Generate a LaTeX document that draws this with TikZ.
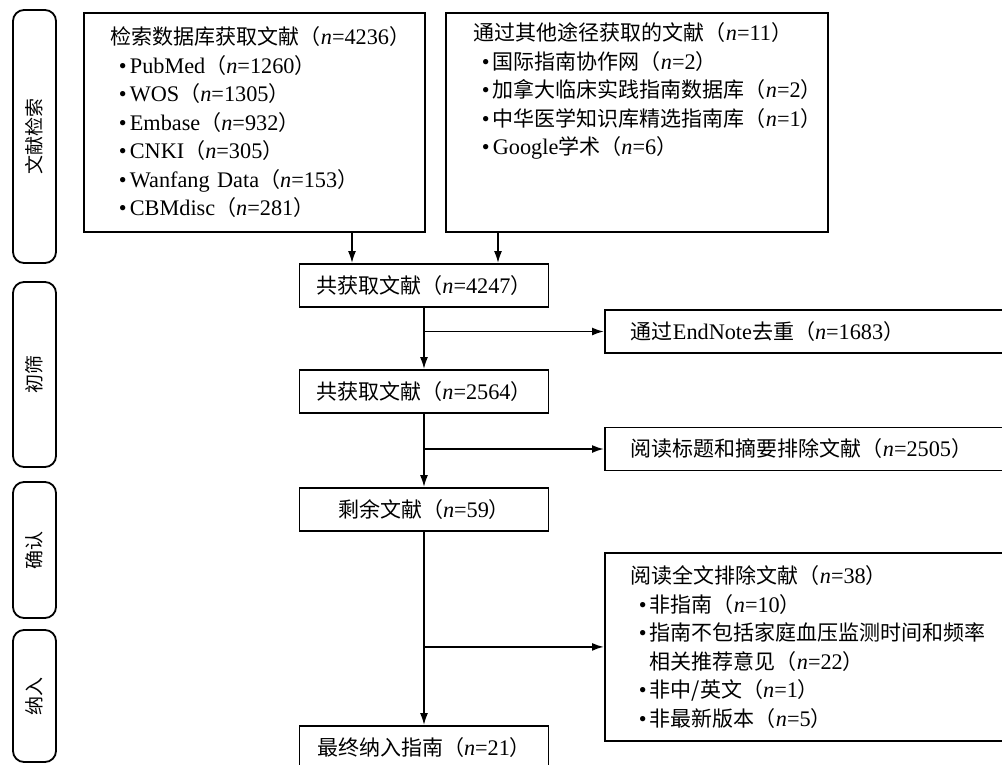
\documentclass[tikz,border=0pt]{standalone}
\usepackage{fontspec}
\setmainfont{Liberation Serif}[Scale=1.06]
\newfontfamily\zh{Noto Sans CJK SC}
\usetikzlibrary{arrows.meta}
\newcommand{\nn}[1]{{\zh （}\textit{n}=#1{\zh ）}}
\newcommand{\bl}{\hspace*{8pt}\makebox[11pt][l]{•}}
\begin{document}
\begin{tikzpicture}[x=1pt,y=-1pt,>={Latex[length=12pt,width=8pt]},line width=1.8pt,
    font=\fontsize{21pt}{28.5pt}\selectfont]
  \tikzstyle{stage}=[draw,rounded corners=11pt,rotate=90,minimum height=43pt,
    inner sep=0pt,font=\zh\fontsize{19pt}{22pt}\selectfont]
  \tikzstyle{box}=[draw,minimum width=249pt,minimum height=43pt,inner sep=0pt]
  \tikzstyle{list}=[draw,align=left,inner xsep=0pt,inner ysep=10pt,anchor=north west]
  \tikzstyle{note}=[list,minimum width=400pt,text width=348pt,anchor=west]
  \useasboundingbox (0,0) rectangle (1002,764);

  % stage labels on the left
  \foreach \n/\y/\h/\t in {stg1/136.5/253/文献检索,stg2/374.5/185/初筛,
                           stg3/550/136/确认,stg4/696/132/纳入} {
    \node[stage,minimum width=\h pt] (\n) at (34.5,\y) {\t};
  }

  % sources
  \node[list,minimum width=341pt,minimum height=219pt,text width=287pt] (db) at (83,12)
    {{\zh 检索数据库获取文献}\nn{4236}\\
     \bl PubMed\nn{1260}\\
     \bl WOS\nn{1305}\\
     \bl Embase\nn{932}\\
     \bl CNKI\nn{305}\\
     \bl Wanfang Data\nn{153}\\
     \bl CBMdisc\nn{281}};
  \node[list,minimum width=382pt,minimum height=219pt,text width=326pt] (other) at (445,12)
    {{\zh 通过其他途径获取的文献}\nn{11}\\
     \bl{\zh 国际指南协作网}\nn{2}\\
     \bl{\zh 加拿大临床实践指南数据库}\nn{2}\\
     \bl{\zh 中华医学知识库精选指南库}\nn{1}\\
     \bl Google{\zh 学术}\nn{6}\rule[-67pt]{0pt}{67pt}};

  % main column
  \node[box] (total1) at (424,285.5) {{\zh 共获取文献}\nn{4247}};
  \node[box] (total2) at (424,391.5) {{\zh 共获取文献}\nn{2564}};
  \node[box] (remain) at (424,509.5) {{\zh 剩余文献}\nn{59}};
  \node[box] (final) at (424,747.5) {{\zh 最终纳入指南}\nn{21}};

  % excluded
  \node[note,minimum height=43pt] (dup) at (604,331.5)
    {{\zh 通过}EndNote{\zh 去重}\nn{1683}};
  \node[note,minimum height=43pt] (screen) at (604,449)
    {{\zh 阅读标题和摘要排除文献}\nn{2505}};
  \node[note,minimum height=188pt,anchor=north west] (excl) at (604,552)
    {{\zh 阅读全文排除文献}\nn{38}\\
     \bl{\zh 非指南}\nn{10}\\
     \bl{\zh 指南不包括家庭血压监测时间和频率}\\
     \hspace*{19pt}{\zh 相关推荐意见}\nn{22}\\
     \bl{\zh 非中/英文}\nn{1}\\
     \bl{\zh 非最新版本}\nn{5}};

  \coordinate (in1) at ([xshift=-72pt]total1.north);
  \coordinate (in2) at ([xshift=74pt]total1.north);
  \draw[->] (db.south -| in1) -- (in1);
  \draw[->] (other.south -| in2) -- (in2);
  \draw[->] (total1) -- (total2);
  \draw[->] (total1.south |- dup.west) -- (dup.west);
  \draw[->] (total2) -- (remain);
  \draw[->] (total2.south |- screen.west) -- (screen.west);
  \draw[->] (remain) -- (final);
  \draw[->] (remain.south |- excl.west) -- (excl.west);
\end{tikzpicture}
\end{document}
